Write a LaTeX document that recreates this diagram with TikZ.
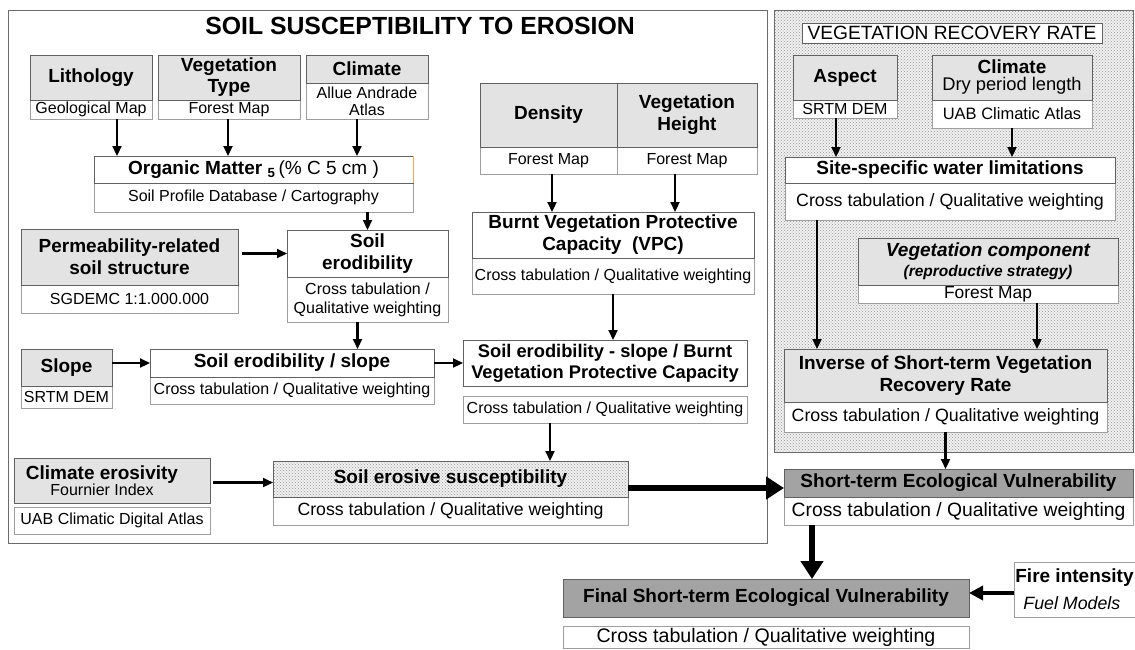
\documentclass[tikz,border=0pt]{standalone}
\usepackage{fontspec}
\setmainfont{Liberation Sans}
\usetikzlibrary{arrows.meta,calc,patterns}
\begin{document}
\begin{tikzpicture}[x=1pt,y=-1pt,
  wh/.style 2 args={minimum width=#1pt,minimum height=#2pt},
  box/.style={anchor=north west,inner sep=0pt,outer sep=0pt,align=center,line width=0.9pt},
  main/.style={box,draw=black!62,font=\fontsize{19}{22}\selectfont\bfseries},
  gmain/.style={main,fill=black!11},
  wmain/.style={main,fill=white},
  dmain/.style={main,fill=black!36},
  sub/.style={box,draw=black!38,fill=white,font=\fontsize{16}{19}\selectfont},
  hatch/.style={preaction={fill=black!6},pattern=crosshatch dots,pattern color=black!40},
  frame/.style={anchor=north west,inner sep=0pt,outer sep=0pt,draw=black!58,line width=1pt},
  arr/.style={line width=2.2pt,-{Triangle[length=10pt,width=9pt]}},
  midarr/.style={line width=4pt,-{Triangle[length=14pt,width=14pt]}},
  bigarr/.style={line width=6pt,-{Triangle[length=18pt,width=22pt]}}]
\useasboundingbox (0,0) rectangle (1135,649);
% frames
\node[frame,fill=white,wh={759}{533}] (frameL) at (8,10) {};
\node[frame,hatch,wh={359}{442}] (frameR) at (774,10) {};
\node[font=\fontsize{24.8}{26}\selectfont\bfseries] (title) at (420,25.5) {SOIL SUSCEPTIBILITY TO EROSION};
\node[box,draw=black!62,fill=white,wh={300}{20},font=\fontsize{19.2}{20}\selectfont] (vrr) at (802,23) {VEGETATION RECOVERY RATE};
% left column inputs
\node[sub,wh={122}{19}] (lithsub) at (30,100) {Geological Map};
\node[gmain,wh={122}{45}] (lith) at (30,55) {Lithology};
\node[sub,wh={142}{19}] (vegsub) at (158,100) {Forest Map};
\node[gmain,wh={142}{45},font=\fontsize{19}{21}\selectfont\bfseries] (veg) at (158,55) {Vegetation\\Type};
\node[sub,wh={122}{36},font=\fontsize{16}{17}\selectfont] (climsub) at (306,83) {Allue Andrade\\Atlas};
\node[gmain,wh={122}{28}] (clim) at (306,55) {Climate};
\node[sub,wh={319}{29}] (omsub) at (94,183) {Soil Profile Database / Cartography};
\node[wmain,wh={319}{27}] (om) at (94,156) {Organic Matter \textsubscript{5}{\mdseries\,(\% C 5 cm )}};
\draw[orange!70,line width=1pt] (om.north east) -- (om.south east);
\node[sub,wh={217}{28}] (permsub) at (21,285) {SGDEMC 1:1.000.000};
\node[gmain,wh={217}{56}] (perm) at (21,229) {Permeability-related\\soil structure};
\node[sub,wh={161}{45}] (serodsub) at (287,277) {Cross tabulation /\\Qualitative weighting};
\node[wmain,wh={161}{47}] (serod) at (287,230) {Soil\\erodibility};
\node[sub,wh={91}{22}] (slopesub) at (21,386) {SRTM DEM};
\node[gmain,wh={91}{37}] (slope) at (21,349) {Slope};
\node[sub,wh={284}{27}] (seslopesub) at (150,377) {Cross tabulation / Qualitative weighting};
\node[wmain,wh={284}{28}] (seslope) at (150,349) {Soil erodibility / slope};
\node[sub,wh={137}{27}] (denssub) at (480,147) {Forest Map};
\node[gmain,wh={137}{64}] (dens) at (480,83) {Density};
\node[sub,wh={140}{27}] (vhsub) at (617,147) {Forest Map};
\node[gmain,wh={140}{64}] (vh) at (617,83) {Vegetation\\Height};
\node[sub,wh={282}{36}] (bvpcsub) at (472,258) {Cross tabulation / Qualitative weighting};
\node[wmain,wh={282}{46}] (bvpc) at (472,212) {Burnt Vegetation Protective\\Capacity\ \ (VPC)};
\node[wmain,wh={284}{46},font=\fontsize{18.3}{21}\selectfont\bfseries] (sebv) at (463,340) {Soil erodibility - slope / Burnt\\Vegetation Protective Capacity};
\node[sub,wh={284}{27}] (sebvsub) at (463,396) {Cross tabulation / Qualitative weighting};
\node[gmain,wh={196}{45}] (ce) at (14,458) {Climate erosivity\kern20pt\\[-6pt]{\mdseries\fontsize{16}{16}\selectfont Fournier Index\kern20pt}};
\node[sub,wh={196}{27}] (cesub) at (14,507) {UAB Climatic Digital Atlas};
\node[sub,wh={355}{28},font=\fontsize{17.7}{20}\selectfont] (sessub) at (273,497) {Cross tabulation / Qualitative weighting};
\node[main,hatch,wh={355}{36}] (ses) at (273,461) {Soil erosive susceptibility};
% right column
\node[sub,wh={104}{18}] (aspsub) at (793,100) {SRTM DEM};
\node[gmain,wh={104}{45}] (asp) at (793,55) {Aspect};
\node[sub,wh={160}{28},font=\fontsize{16.5}{19}\selectfont] (climrsub) at (932,100) {UAB Climatic Atlas};
\node[gmain,wh={160}{45}] (climr) at (932,55) {Climate\\[-5pt]{\mdseries\fontsize{18.3}{18}\selectfont Dry period length}};
\node[sub,wh={330}{37},font=\fontsize{17.8}{20}\selectfont] (sswsub) at (785,183) {Cross tabulation / Qualitative weighting};
\node[wmain,wh={330}{26}] (ssw) at (785,157) {Site-specific water limitations};
\node[sub,wh={260}{18},font=\fontsize{17.4}{19}\selectfont] (vcsub) at (858,285) {Forest Map};
\node[gmain,wh={260}{47},font=\fontsize{19}{20}\selectfont\bfseries\itshape] (vc) at (858,238) {Vegetation component\\{\fontsize{15.5}{17}\selectfont (reproductive strategy)}};
\node[sub,wh={323}{30},font=\fontsize{17.8}{20}\selectfont] (invsub) at (784,402) {Cross tabulation / Qualitative weighting};
\node[gmain,wh={323}{53}] (inv) at (784,349) {Inverse of Short-term Vegetation\\Recovery Rate};
\node[sub,wh={349}{28},font=\fontsize{19.3}{21}\selectfont] (stevsub) at (784,497) {Cross tabulation / Qualitative weighting};
\node[dmain,wh={349}{28}] (stev) at (784,469) {Short-term Ecological Vulnerability};
% bottom
\node[sub,wh={406}{22},font=\fontsize{19.6}{21}\selectfont] (finalsub) at (563,626) {Cross tabulation / Qualitative weighting};
\node[dmain,wh={406}{38}] (final) at (563,579) {Final Short-term Ecological Vulnerability};
\node[box,draw=black!38,fill=white,wh={121}{55},align=left,font=\fontsize{19}{21}\selectfont] (fire) at (1014,562) {\textbf{Fire intensity}\\[6pt]\hspace*{8pt}{\fontsize{17.8}{19}\selectfont\itshape Fuel Models}};
% connector start points
\coordinate (s1) at ($(lithsub.south)+(26,0)$);
\coordinate (s2) at ($(vegsub.south)+(-1,0)$);
\coordinate (s3) at ($(climsub.south)+(-10,0)$);
\coordinate (s5) at ($(perm.east |- serod.west)+(4,0)$);
\coordinate (s6) at ($(serodsub.south)+(-10,0)$);
\coordinate (s9) at ($(denssub.south)+(3.5,0)$);
\coordinate (s10) at ($(vhsub.south)+(-12,0)$);
\coordinate (s12) at ($(sebvsub.south)+(-55,0)$);
\coordinate (s13) at ($(ce.east)+(3,2)$);
\coordinate (s14) at ($(ses.east)+(0,9)$);
\coordinate (s15) at ($(aspsub.south)+(-9,0)$);
\coordinate (s17) at ($(sswsub.south west)+(32,0)$);
\coordinate (s18) at ($(vcsub.south)+(49,0)$);
\coordinate (s20) at ($(stevsub.south west)+(28,0)$);
\coordinate (s21) at ($(fire.west)+(0,3.5)$);
% connectors
\draw[arr] (s1) -- (s1 |- om.north);
\draw[arr] (s2) -- (s2 |- om.north);
\draw[arr] (s3) -- (s3 |- om.north);
\draw[arr] (omsub.south -| serod.north) -- (serod.north);
\draw[arr] (s5) -- (serod.west);
\draw[arr] (s6) -- (s6 |- seslope.north);
\draw[arr] (slope.east |- seslope.west) -- (seslope.west);
\draw[arr] (seslope.east) -- (seslope.east -| sebv.west);
\draw[arr] (s9) -- (s9 |- bvpc.north);
\draw[arr] (s10) -- (s10 |- bvpc.north);
\draw[arr] (bvpcsub.south) -- (bvpcsub.south |- sebv.north);
\draw[arr] (s12) -- (s12 |- ses.north);
\draw[arr] (s13) -- (s13 -| ses.west);
\draw[bigarr] (s14) -- (s14 -| stev.west);
\draw[arr] (s15) -- (s15 |- ssw.north);
\draw[arr] (climrsub.south) -- (climrsub.south |- ssw.north);
\draw[arr] (s17) -- (s17 |- inv.north);
\draw[arr] (s18) -- (s18 |- inv.north);
\draw[arr] (invsub.south) -- (invsub.south |- stev.north);
\draw[bigarr] (s20) -- (s20 |- final.north);
\draw[midarr] (s21) -- (s21 -| final.east);
\end{tikzpicture}
\end{document}
